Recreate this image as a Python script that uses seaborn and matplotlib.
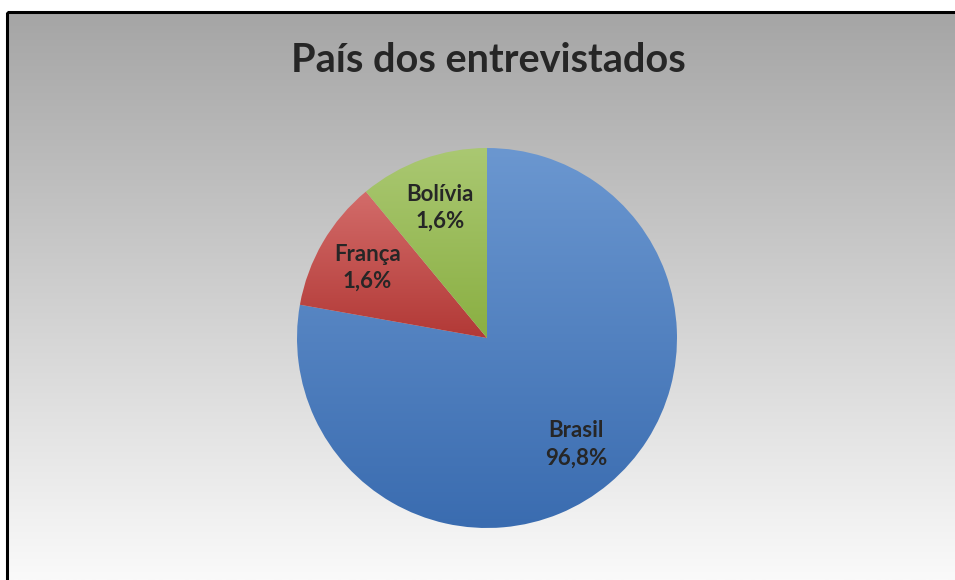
import numpy as np
import matplotlib
matplotlib.use("Agg")
import matplotlib.pyplot as plt
from matplotlib.colors import LinearSegmentedColormap
from matplotlib.patches import Rectangle
import seaborn as sns

# dados (fatias como desenhadas; rótulos como escritos no gráfico)
paises = ["Brasil", "França", "Bolívia"]
fatias = [77.8, 11.2, 11.0]
rotulos_pct = ["96,8%", "1,6%", "1,6%"]
titulo = "País dos entrevistados"

cores_topo = ["#6b97d0", "#d36c6a", "#aac872"]
cores_base = ["#3a6cb0", "#b23936", "#8aaf42"]

sns.set_theme(style="white")
plt.rcParams["font.family"] = ["Lato", "DejaVu Sans"]
texto_cor = "#262626"

W, H = 955, 580
fig = plt.figure(figsize=(W / 100, H / 100), dpi=100)

# fundo em degradê dentro da moldura
bg = fig.add_axes([0, 0, 1, 1])
bg.set_axis_off()
bg.set_xlim(0, W)
bg.set_ylim(H, 0)
grad = np.linspace(0, 1, 256).reshape(-1, 1)
cmap_bg = LinearSegmentedColormap.from_list("bg", ["#a5a5a5", "#fafafa"])
bg.imshow(grad, cmap=cmap_bg, extent=[7, W + 5, H, 12], aspect="auto")
bg.add_patch(Rectangle((7, 12), W + 60, H + 60, fill=False,
                       edgecolor="black", lw=2.2, clip_on=True))

fig.text(488 / W, 1 - 60 / H, titulo, ha="center", va="center",
         fontsize=28.5, fontweight="bold", color=texto_cor)

# pizza
cx, cy, r = 487, 338, 190
ax = fig.add_axes([(cx - r) / W, (H - cy - r) / H, 2 * r / W, 2 * r / H])
wedges, _ = ax.pie(fatias, startangle=90, counterclock=False,
                   wedgeprops=dict(linewidth=0))
ax.set_axis_off()

for w, topo, base in zip(wedges, cores_topo, cores_base):
    w.set_facecolor("none")
    ext = w.get_path().get_extents()
    cm = LinearSegmentedColormap.from_list("w", [topo, base])
    im = ax.imshow(grad, cmap=cm, extent=[ext.x0, ext.x1, ext.y0, ext.y1],
                   aspect="auto", origin="upper", zorder=1)
    im.set_clip_path(w)

for w, nome, pct in zip(wedges, paises, rotulos_pct):
    ang = np.deg2rad((w.theta1 + w.theta2) / 2)
    d = 0.73
    ax.text(d * np.cos(ang), d * np.sin(ang), f"{nome}\n{pct}",
            ha="center", va="center", fontsize=16, fontweight="bold",
            color=texto_cor, linespacing=1.35, zorder=3)

ax.set_xlim(-1, 1)
ax.set_ylim(-1, 1)
fig.savefig("out.png", dpi=100)
